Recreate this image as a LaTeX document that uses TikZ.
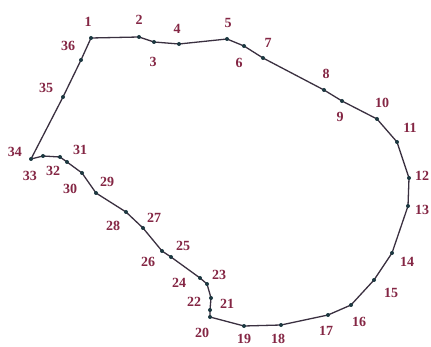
\documentclass[tikz,border=0pt]{standalone}
\usepackage{fontspec}
\setmainfont{Liberation Serif}
\usepackage{tikz}

\definecolor{loopline}{HTML}{3A3040}
\definecolor{loopdot}{HTML}{1C3840}
\definecolor{numred}{HTML}{842644}

\tikzset{
  edge/.style={line width=1.3pt, color=loopline},
  dot/.style={fill=loopdot},
  lbl/.style={font=\fontsize{14}{14}\selectfont\bfseries, text=numred, inner sep=0pt}
}

\begin{document}
\begin{tikzpicture}[x=1pt, y=-1pt]
  \useasboundingbox (0,0) rectangle (431,347);
  % boundary points
  \coordinate (p1) at (91,38);
  \coordinate (p2) at (139,37);
  \coordinate (p3) at (154,42);
  \coordinate (p4) at (179,44);
  \coordinate (p5) at (227,39);
  \coordinate (p6) at (244,46);
  \coordinate (p7) at (263,58);
  \coordinate (p8) at (324,90);
  \coordinate (p9) at (342,101);
  \coordinate (p10) at (377,119);
  \coordinate (p11) at (397,142);
  \coordinate (p12) at (409,178);
  \coordinate (p13) at (408,206);
  \coordinate (p14) at (392,253);
  \coordinate (p15) at (374,280);
  \coordinate (p16) at (351,305);
  \coordinate (p17) at (328,315);
  \coordinate (p18) at (281,325);
  \coordinate (p19) at (244,326);
  \coordinate (p20) at (210,317);
  \coordinate (p21) at (210,310);
  \coordinate (p22) at (211,298);
  \coordinate (p23) at (207,284);
  \coordinate (p24) at (200,278);
  \coordinate (p25) at (171,257);
  \coordinate (p26) at (162,251);
  \coordinate (p27) at (143,228);
  \coordinate (p28) at (126,212);
  \coordinate (p29) at (96,193);
  \coordinate (p30) at (82,173);
  \coordinate (p31) at (67,162);
  \coordinate (p32) at (60,157);
  \coordinate (p33) at (43,156);
  \coordinate (p34) at (31,159);
  \coordinate (p35) at (63,97);
  \coordinate (p36) at (81,60);

  \draw[edge] (p1) \foreach \i in {2,...,36} { -- (p\i) } -- cycle;
  \foreach \i in {1,...,36}
    \fill[dot] (p\i) circle (2);

  % numbers
  \node[lbl] (n1) at (88,22) {1};
  \node[lbl] (n2) at (139,20) {2};
  \node[lbl] (n3) at (153,62) {3};
  \node[lbl] (n4) at (177,29) {4};
  \node[lbl] (n5) at (228,23) {5};
  \node[lbl] (n6) at (239,63) {6};
  \node[lbl] (n7) at (268,43) {7};
  \node[lbl] (n8) at (326,74) {8};
  \node[lbl] (n9) at (340,117) {9};
  \node[lbl] (n10) at (382,103) {10};
  \node[lbl] (n11) at (410,128) {11};
  \node[lbl] (n12) at (422,176) {12};
  \node[lbl] (n13) at (422,210) {13};
  \node[lbl] (n14) at (407,262) {14};
  \node[lbl] (n15) at (391,293) {15};
  \node[lbl] (n16) at (359,322) {16};
  \node[lbl] (n17) at (326,331) {17};
  \node[lbl] (n18) at (278,339) {18};
  \node[lbl] (n19) at (244,339) {19};
  \node[lbl] (n20) at (202,333) {20};
  \node[lbl] (n21) at (227,304) {21};
  \node[lbl] (n22) at (194,302) {22};
  \node[lbl] (n23) at (219,275) {23};
  \node[lbl] (n24) at (179,283) {24};
  \node[lbl] (n25) at (183,246) {25};
  \node[lbl] (n26) at (148,262) {26};
  \node[lbl] (n27) at (154,218) {27};
  \node[lbl] (n28) at (113,226) {28};
  \node[lbl] (n29) at (107,182) {29};
  \node[lbl] (n30) at (70,189) {30};
  \node[lbl] (n31) at (80,150) {31};
  \node[lbl] (n32) at (53,171) {32};
  \node[lbl] (n33) at (30,176) {33};
  \node[lbl] (n34) at (15,152) {34};
  \node[lbl] (n35) at (46,88) {35};
  \node[lbl] (n36) at (68,46) {36};
\end{tikzpicture}
\end{document}
